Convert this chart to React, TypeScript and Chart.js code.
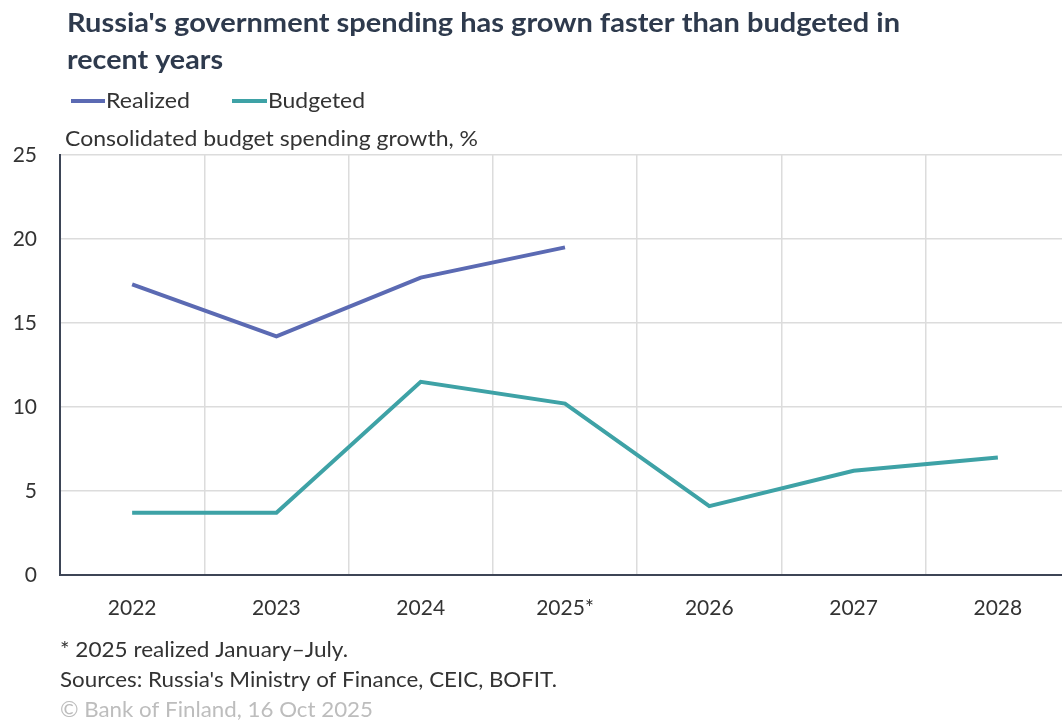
import React, { useEffect, useRef } from "react";
import { Chart, registerables } from "chart.js";

Chart.register(...registerables);

const categories = ["2022", "2023", "2024", "2025*", "2026", "2027", "2028"];
const realized = [17.3, 14.2, 17.7, 19.5, null, null, null];
const budgeted = [3.7, 3.7, 11.5, 10.2, 4.1, 6.2, 7.0];
const yTicks = [0, 5, 10, 15, 20, 25];

const titleLines = [
  "Russia's government spending has grown faster than budgeted in",
  "recent years",
];
const axisTitle = "Consolidated budget spending growth, %";
const footLines = [
  "* 2025 realized January\u2013July.",
  "Sources: Russia's Ministry of Finance, CEIC, BOFIT.",
];
const copyright = "\u00A9 Bank of Finland, 16 Oct 2025";

const FONT = "Lato, 'Open Sans', sans-serif";
const REALIZED_COLOR = "#5b6ab3";
const BUDGETED_COLOR = "#3ea2a6";
const TEXT_DARK = "#2e3a4d";

function fitText(ctx: any, text: string, x: number, y: number, width: number) {
  const w = ctx.measureText(text).width;
  ctx.save();
  ctx.translate(x, y);
  ctx.scale(width / w, 1);
  ctx.fillText(text, 0, 0);
  ctx.restore();
}

const textPlugin = {
  id: "texts",
  afterDraw(chart: any) {
    const ctx = chart.ctx;
    ctx.save();
    ctx.textBaseline = "middle";
    ctx.textAlign = "left";
    // Title
    ctx.fillStyle = TEXT_DARK;
    ctx.font = `bold 27px ${FONT}`;
    fitText(ctx, titleLines[0], 67, 23, 833);
    fitText(ctx, titleLines[1], 67, 60, 156);
    // Legend
    ctx.font = `21px ${FONT}`;
    ctx.lineWidth = 4;
    ctx.strokeStyle = REALIZED_COLOR;
    ctx.beginPath();
    ctx.moveTo(71, 101);
    ctx.lineTo(105, 101);
    ctx.stroke();
    ctx.fillStyle = "#333";
    fitText(ctx, "Realized", 106, 101, 84);
    ctx.strokeStyle = BUDGETED_COLOR;
    ctx.beginPath();
    ctx.moveTo(232, 101);
    ctx.lineTo(267, 101);
    ctx.stroke();
    fitText(ctx, "Budgeted", 268, 101, 97);
    // Axis title
    ctx.fillStyle = "#333";
    fitText(ctx, axisTitle, 65, 139, 413);
    // Footer
    ctx.fillStyle = "#333";
    fitText(ctx, footLines[0], 60, 650, 288);
    fitText(ctx, footLines[1], 60, 680, 497);
    ctx.fillStyle = "#bdbdbd";
    fitText(ctx, copyright, 60, 710, 313);
    ctx.restore();
  },
};

export default function App() {
  const ref = useRef<HTMLCanvasElement | null>(null);
  useEffect(() => {
    document.body.style.margin = "0";
    const canvas = ref.current;
    if (!canvas) return;
    const chart = new Chart(canvas, {
      type: "line",
      data: {
        labels: categories,
        datasets: [
          {
            label: "Realized",
            data: realized,
            borderColor: REALIZED_COLOR,
            backgroundColor: REALIZED_COLOR,
            borderWidth: 4,
            pointRadius: 0,
            tension: 0,
            spanGaps: false,
          },
          {
            label: "Budgeted",
            data: budgeted,
            borderColor: BUDGETED_COLOR,
            backgroundColor: BUDGETED_COLOR,
            borderWidth: 4,
            pointRadius: 0,
            tension: 0,
          },
        ],
      },
      options: {
        animation: false,
        responsive: false,
        maintainAspectRatio: false,
        layout: { padding: { top: 155, left: 0, right: 0, bottom: 0 } },
        plugins: {
          legend: { display: false },
          title: { display: false },
          tooltip: { enabled: false },
        },
        scales: {
          x: {
            type: "category",
            offset: true,
            grid: { offset: true, color: "#dcdcdc", lineWidth: 1.5, drawTicks: false },
            border: { color: "#3d4556", width: 2 },
            ticks: {
              color: "#333",
              font: { family: FONT, size: 21 },
              padding: 21,
              maxRotation: 0,
            },
            afterFit(scale: any) {
              scale.height = 147;
            },
          },
          y: {
            min: 0,
            max: 25,
            afterBuildTicks(scale: any) {
              scale.ticks = yTicks.map((v) => ({ value: v }));
            },
            grid: { color: "#dcdcdc", lineWidth: 1.5, drawTicks: false },
            border: { color: "#3d4556", width: 2 },
            ticks: {
              color: "#333",
              font: { family: FONT, size: 21 },
              padding: 23,
            },
            afterFit(scale: any) {
              scale.width = 60;
            },
          },
        },
      },
      plugins: [textPlugin],
    } as any);
    return () => chart.destroy();
  }, []);
  return (
    <div style={{ position: "relative", width: 1062, height: 722, overflow: "hidden", background: "#fff" }}>
      <canvas ref={ref} width={1070} height={722} style={{ position: "absolute", left: 0, top: 0, width: 1070, height: 722 }} />
    </div>
  );
}
